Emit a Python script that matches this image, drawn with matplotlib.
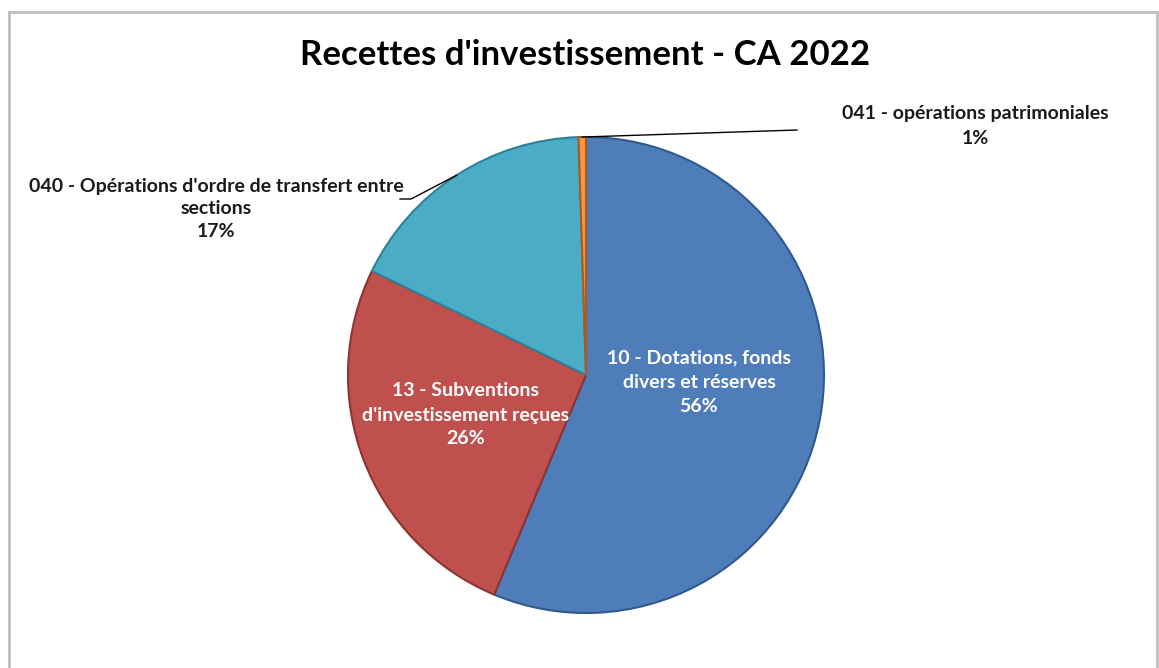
import matplotlib.pyplot as plt
import matplotlib.patches as mpatches
import numpy as np

plt.rcParams['font.family'] = ['Lato', 'DejaVu Sans']

labels = ['10 - Dotations, fonds\ndivers et réserves',
          "13 - Subventions\nd'investissement reçues",
          "040 - Opérations d'ordre de transfert entre\nsections",
          '041 - opérations patrimoniales']
values = [56.3, 25.9, 17.3, 0.5]
pct_labels = ['56%', '26%', '17%', '1%']
colors = ['#4f7dba', '#c0504d', '#4bacc6', '#f79646']
edges = ['#2f5a8c', '#8e3331', '#2f8199', '#b05a1a']

W, H = 1159, 668
fig = plt.figure(figsize=(W / 100, H / 100), dpi=100)

# grey frame
fig.patches.append(mpatches.Rectangle((9 / W, -0.01), (1157 - 9) / W, (H - 12) / H + 0.01,
                                      transform=fig.transFigure, fill=False,
                                      edgecolor='#bdbdbd', linewidth=2))

cx, cy, r = 586, 375, 238
ax = fig.add_axes([(cx - r) / W, (H - cy - r) / H, 2 * r / W, 2 * r / H])
wedges, _ = ax.pie(values, colors=colors, startangle=90, counterclock=False,
                   radius=1, wedgeprops=dict(linewidth=1.5))
for w, ec in zip(wedges, edges):
    w.set_edgecolor(ec)
ax.set_xlim(-1, 1)
ax.set_ylim(-1, 1)
ax.set_aspect('equal')
ax.axis('off')


def px(x, y):
    return (x - cx) / r, (cy - y) / r


# inside labels
for i, (x, y) in zip([0, 1], [(699, 382), (466, 415)]):
    ax.text(*px(x, y), labels[i] + '\n' + pct_labels[i], color='white',
            fontsize=14, fontweight='bold', ha='center', va='center',
            linespacing=1.5)

# outside labels with leader lines
def rim(w):
    a = np.deg2rad((w.theta1 + w.theta2) / 2)
    return np.cos(a), np.sin(a)

tx, ty = rim(wedges[2])
p1 = px(400, 199)
p2 = px(411, 199)
ax.plot([p1[0], p2[0], tx], [p1[1], p2[1], ty], color='black', lw=1, clip_on=False)
ax.text(*px(216, 209), labels[2] + '\n' + pct_labels[2], color='#1a1a1a',
        fontsize=14, fontweight='bold', ha='center', va='center', linespacing=1.4)

ox, oy = rim(wedges[3])
q = px(797, 130)
ax.plot([q[0], ox], [q[1], oy], color='black', lw=1, clip_on=False)
ax.text(*px(975, 126), labels[3] + '\n' + pct_labels[3], color='#1a1a1a',
        fontsize=14, fontweight='bold', ha='center', va='center', linespacing=1.6)

fig.text(585 / W, 1 - 55 / H, "Recettes d'investissement - CA 2022", ha='center',
         va='center', fontsize=25, fontweight='bold', color='black')

plt.savefig('out.png', dpi=100)
